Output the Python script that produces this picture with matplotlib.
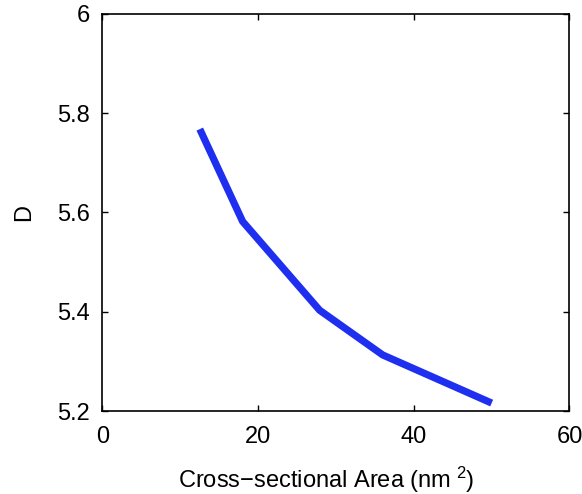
import matplotlib
matplotlib.use("Agg")
import matplotlib.pyplot as plt

# ─── Data ─────────────────────────────────────────────────────────────────────

area = [12.5, 18.0, 27.9, 36.0, 50.0]        # cross-sectional area, nm^2
d_values = [5.768, 5.582, 5.403, 5.313, 5.216]

x_ticks = [0, 20, 40, 60]
y_ticks = [5.2, 5.4, 5.6, 5.8, 6.0]
y_tick_labels = ["5.2", "5.4", "5.6", "5.8", "6"]

# ─── Style ────────────────────────────────────────────────────────────────────

plt.rcParams["font.family"] = ["Liberation Sans", "DejaVu Sans"]
plt.rcParams["mathtext.default"] = "regular"

fig = plt.figure(figsize=(5.82, 4.94), dpi=100)
ax = fig.add_axes([0.1761, 0.168, 0.8024, 0.8037])

ax.plot(area, d_values, color="#1f2ff0", linewidth=5.2, solid_capstyle="butt")

ax.set_xlim(0, 60)
ax.set_ylim(5.2, 6.0)
ax.set_xticks(x_ticks)
ax.set_yticks(y_ticks)
ax.set_yticklabels(y_tick_labels)

ax.tick_params(direction="in", length=4, width=1.0, labelsize=17,
               top=True, right=True, colors="black")
ax.tick_params(axis="x", pad=11)
ax.tick_params(axis="y", pad=9)
for spine in ax.spines.values():
    spine.set_linewidth(1.2)

ax.set_xlabel("Cross\u2212sectional Area (nm$^{\\,\\,2}$)", fontsize=17)
ax.set_ylabel("D", fontsize=17)
ax.xaxis.set_label_coords(0.48, -0.136)
ax.yaxis.set_label_coords(-0.144, 0.5)

fig.savefig("out.png", dpi=100, facecolor="white")
